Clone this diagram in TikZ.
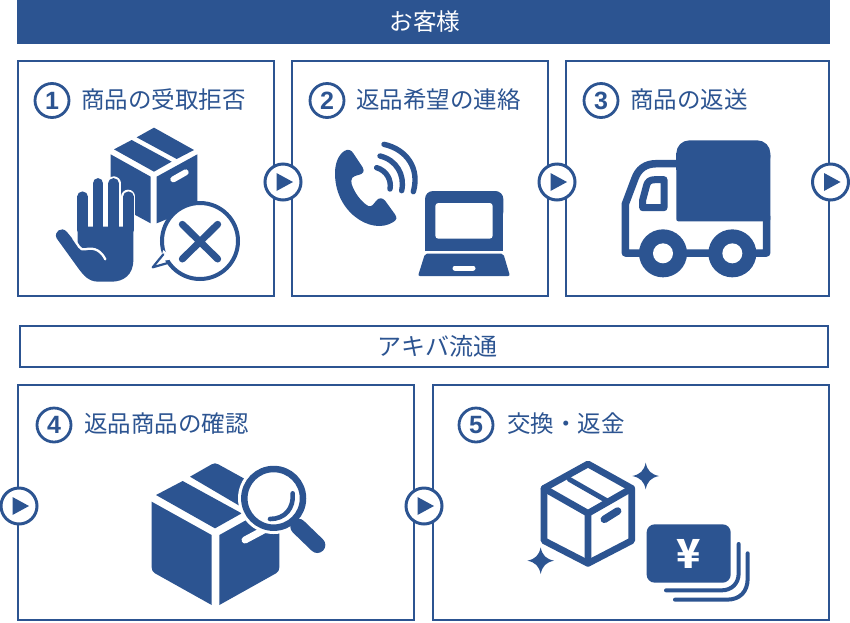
\documentclass[tikz,border=0pt]{standalone}
\usepackage{fontspec}
\setmainfont{Noto Sans CJK JP}
\newfontfamily\numfont[Scale=1]{Liberation Sans}
\definecolor{mainblue}{HTML}{2C5491}
\tikzset{
  panel/.style={draw=mainblue,line width=2.6pt,fill=white},
  ttl/.style={text=mainblue,font=\fontsize{23.5}{23.5}\selectfont,anchor=west,inner sep=0pt},
  numc/.style={circle,draw=mainblue,line width=2.8pt,fill=white,minimum size=34pt,inner sep=0pt,text=mainblue,font=\numfont\bfseries\fontsize{25}{25}\selectfont},
  ico/.style={fill=mainblue,draw=none},
  ln/.style={draw=mainblue,line cap=round,line join=round},
  wln/.style={draw=white,line cap=round,line join=round},
  playc/.style={circle,draw=mainblue,line width=3pt,fill=white,minimum size=36pt,inner sep=0pt},
}
\begin{document}
\begin{tikzpicture}[x=1pt,y=-1pt]
\useasboundingbox (0,0) rectangle (850,622);
% bars
\node[fill=mainblue,minimum width=813pt,minimum height=44pt,inner sep=0pt] (cust) at (423.5,22) {};
\node[text=white,inner sep=0pt,font=\fontsize{23.6}{23.6}\selectfont] (custt) at (425,22) {お客様};
\node[draw=mainblue,line width=2pt,minimum width=808pt,minimum height=41pt,inner sep=0pt] (akiba) at (423.5,346) {};
\node[inner sep=0pt,text=mainblue,font=\fontsize{24}{24}\selectfont] (akibat) at (437.5,346) {アキバ流通};
% panels
\node[panel,minimum width=256pt,minimum height=235pt,inner sep=0pt] (p1) at (146,178.5) {};
\node[panel,minimum width=256pt,minimum height=235pt,inner sep=0pt] (p2) at (420,178.5) {};
\node[panel,minimum width=263pt,minimum height=235pt,inner sep=0pt] (p3) at (697.5,178.5) {};
\node[panel,minimum width=396pt,minimum height=235pt,inner sep=0pt] (p4) at (216,502.5) {};
\node[panel,minimum width=396pt,minimum height=235pt,inner sep=0pt] (p5) at (631,502.5) {};
% numbers and titles
\node[numc] (n1) at (52,100.5) {1};
\node[numc] (n2) at (327,100.5) {2};
\node[numc] (n3) at (601,100.5) {3};
\node[numc] (n4) at (54,425) {4};
\node[numc] (n5) at (476,425) {5};
\node[ttl] (t1) at (81,100) {商品の受取拒否};
\node[ttl] (t2) at (356,100) {返品希望の連絡};
\node[ttl] (t3) at (630,100) {商品の返送};
\node[ttl] (t4) at (84,424) {返品商品の確認};
\node[ttl] (t5) at (507,424) {交換・返金};
% play buttons
\foreach \nm/\cx/\cy in {a/283/182,b/557/182,c/830.5/182,d/19/506,e/424/506}{
  \node[playc] (play\nm) at (\cx,\cy) {};
  \fill[mainblue] (\cx-6.5,\cy-9) -- (\cx+10,\cy) -- (\cx-6.5,\cy+9) -- cycle;
}
% icon 1
\begin{scope}[shift={(20,60)},scale=1/3]
  \fill[ico] (402,203) -- (522,270) -- (470,297) -- (350,232) -- cycle;
  \fill[ico] (335,240) -- (455,305) -- (402,335) -- (282,268) -- cycle;
  \fill[ico] (272,283) -- (392,350) -- (392,490) -- (272,425) -- cycle;
  \fill[ico] (410,350) -- (532,283) -- (532,440) -- (410,490) -- cycle;
  \draw[wln,line width=6pt] (460,358) -- (497,337);
  % hand halo
  \foreach \fx/\fy in {188/410,234/370,281/370,325/410}{\draw[wln,line width=14pt] (\fx,\fy) -- (\fx,510);}
  \fill[white,draw=white,line width=4pt] (173,500) -- (340,500) -- (340,600) .. controls (340,645) and (310,665) .. (275,665) -- (235,665) .. controls (205,665) and (190,645) .. (175,625) -- (110,535) .. controls (100,515) and (125,498) .. (140,515) -- (173,555) -- cycle;
  \foreach \fx/\fy in {188/410,234/370,281/370,325/410}{\draw[ln,line width=10.5pt] (\fx,\fy) -- (\fx,510);}
  \fill[ico] (173,500) -- (340,500) -- (340,600) .. controls (340,645) and (310,665) .. (275,665) -- (235,665) .. controls (205,665) and (190,645) .. (175,625) -- (110,535) .. controls (100,515) and (125,498) .. (140,515) -- (173,555) -- cycle;
  \draw[wln,line width=2.3pt] (160,535) .. controls (175,555) and (180,572) .. (195,568) .. controls (225,560) and (245,575) .. (256,598);
  % bubble
  \draw[wln,line width=6pt] (432,578) -- (405,618) -- (450,602);
  \draw[draw=mainblue,line width=4pt,fill=white] (540,543) circle (114);
  \fill[white] (430,570) -- (418,606) -- (460,596) -- cycle;
  \draw[ln,line width=2.2pt] (430,583) -- (398,622) -- (447,608);
  \fill[white] (500,543) circle (58);
  \draw[ln,line width=7pt] (487,493) -- (593,597) (593,493) -- (487,597);
\end{scope}
% icon 2
\begin{scope}[shift={(300,120)},scale=1/3]
  \fill[ico] (133,93) .. controls (143,86) and (155,90) .. (160,100) -- (188,142) .. controls (195,155) and (188,162) .. (178,164) -- (165,168) .. controls (150,172) and (152,190) .. (160,205) .. controls (170,228) and (190,250) .. (205,258) .. controls (215,263) and (222,250) .. (228,243) .. controls (236,232) and (248,232) .. (256,243) -- (285,283) .. controls (292,293) and (290,300) .. (280,306) .. controls (245,328) and (200,318) .. (165,290) .. controls (125,258) and (105,210) .. (105,160) .. controls (105,130) and (115,105) .. (133,93) -- cycle;
  \draw[ln,line width=5.4pt] (230,143) .. controls (260,152) and (275,180) .. (270,207);
  \draw[ln,line width=5.4pt] (240,108) .. controls (290,120) and (315,165) .. (305,212);
  \draw[ln,line width=5.4pt] (252,73) .. controls (320,88) and (360,145) .. (340,215);
  \fill[ico,rounded corners=8pt] (375,300) -- (375,213) -- (610,213) -- (610,300) -- cycle;
  \fill[ico] (375,260) rectangle (610,392);
  \fill[white,rounded corners=3pt] (406,249) rectangle (578,356);
  \fill[ico,rounded corners=2pt] (375,401) -- (610,401) -- (630,468) -- (354,468) -- cycle;
  \draw[wln,line width=5pt] (465,444) -- (519,444);
\end{scope}
% icon 3
\begin{scope}[shift={(600,120)},scale=1/3]
  \draw[ln,line width=7.5pt] (240,131) -- (170,131) .. controls (135,131) and (115,148) .. (105,175) -- (76,252) -- (76,399) -- (500,399) -- (500,290);
  \fill[ico,rounded corners=13pt] (229,150) -- (229,61) -- (511,61) -- (511,150) -- cycle;
  \fill[ico,rounded corners=2pt] (229,100) rectangle (511,304);
  \fill[mainblue] (229,100) rectangle (511,150);
  \draw[ln,line width=7pt,fill=white] (128,263) -- (192,263) -- (192,179) -- (165,179) .. controls (150,179) and (143,185) .. (140,195) -- (128,240) -- cycle;
  \foreach \wx in {189,397}{
    \fill[mainblue] (\wx,400) circle (72);
    \fill[white] (\wx,400) circle (30);
  }
\end{scope}
% icon 4
\begin{scope}[shift={(130,450)},scale=1/3]
  \fill[ico] (65,155) -- (245,255) -- (245,465) -- (75,370) .. controls (68,366) and (65,360) .. (65,352) -- cycle;
  \fill[ico] (268,255) -- (448,155) -- (448,352) .. controls (448,360) and (445,366) .. (438,370) -- (268,465) -- cycle;
  \fill[ico] (78,135) -- (158,93) -- (335,190) -- (255,235) -- cycle;
  \fill[ico] (180,80) -- (245,43) .. controls (252,39) and (258,39) .. (265,43) -- (432,135) -- (350,180) -- cycle;
  \draw[wln,line width=7pt] (345,270) -- (405,238);
  \fill[white] (431,145) circle (107);
  \draw[ln,line width=16pt] (505,230) -- (562,285);
  \draw[draw=mainblue,line width=6.5pt,fill=white] (431,145) circle (88);
  \draw[ln,line width=4.6pt] (420,207) .. controls (465,207) and (492,175) .. (488,130);
\end{scope}
% icon 5
\begin{scope}[shift={(510,450)},scale=1/3]
  \draw[ln,line width=6.7pt] (234,42) -- (365,115) -- (365,272) -- (234,340) -- (102,272) -- (102,115) -- cycle;
  \draw[ln,line width=6.7pt] (102,115) -- (234,190) -- (365,115) (234,190) -- (234,340);
  \draw[ln,line width=5pt] (178,88) -- (295,155);
  \draw[ln,line width=7.5pt] (283,208) -- (323,183);
  \fill[mainblue] (407,38) .. controls (412,62) and (423,73) .. (447,78) .. controls (423,83) and (412,94) .. (407,118) .. controls (402,94) and (391,83) .. (367,78) .. controls (391,73) and (402,62) .. (407,38) -- cycle;
  \fill[mainblue] (92,292) .. controls (97,316) and (108,327) .. (132,332) .. controls (108,337) and (97,348) .. (92,372) .. controls (87,348) and (76,337) .. (52,332) .. controls (76,327) and (87,316) .. (92,292) -- cycle;
  \fill[ico,rounded corners=8pt] (410,223) rectangle (662,398);
  \node[text=white,inner sep=0pt,font=\bfseries\fontsize{40}{40}\selectfont] (yen) at (535,312) {¥};
  \draw[ln,line width=4pt] (468,421) -- (635,421) .. controls (665,421) and (686,400) .. (686,370) -- (686,282);
  \draw[ln,line width=4pt] (495,449) -- (650,449) .. controls (690,449) and (713,425) .. (713,385) -- (713,310);
\end{scope}
\end{tikzpicture}
\end{document}
